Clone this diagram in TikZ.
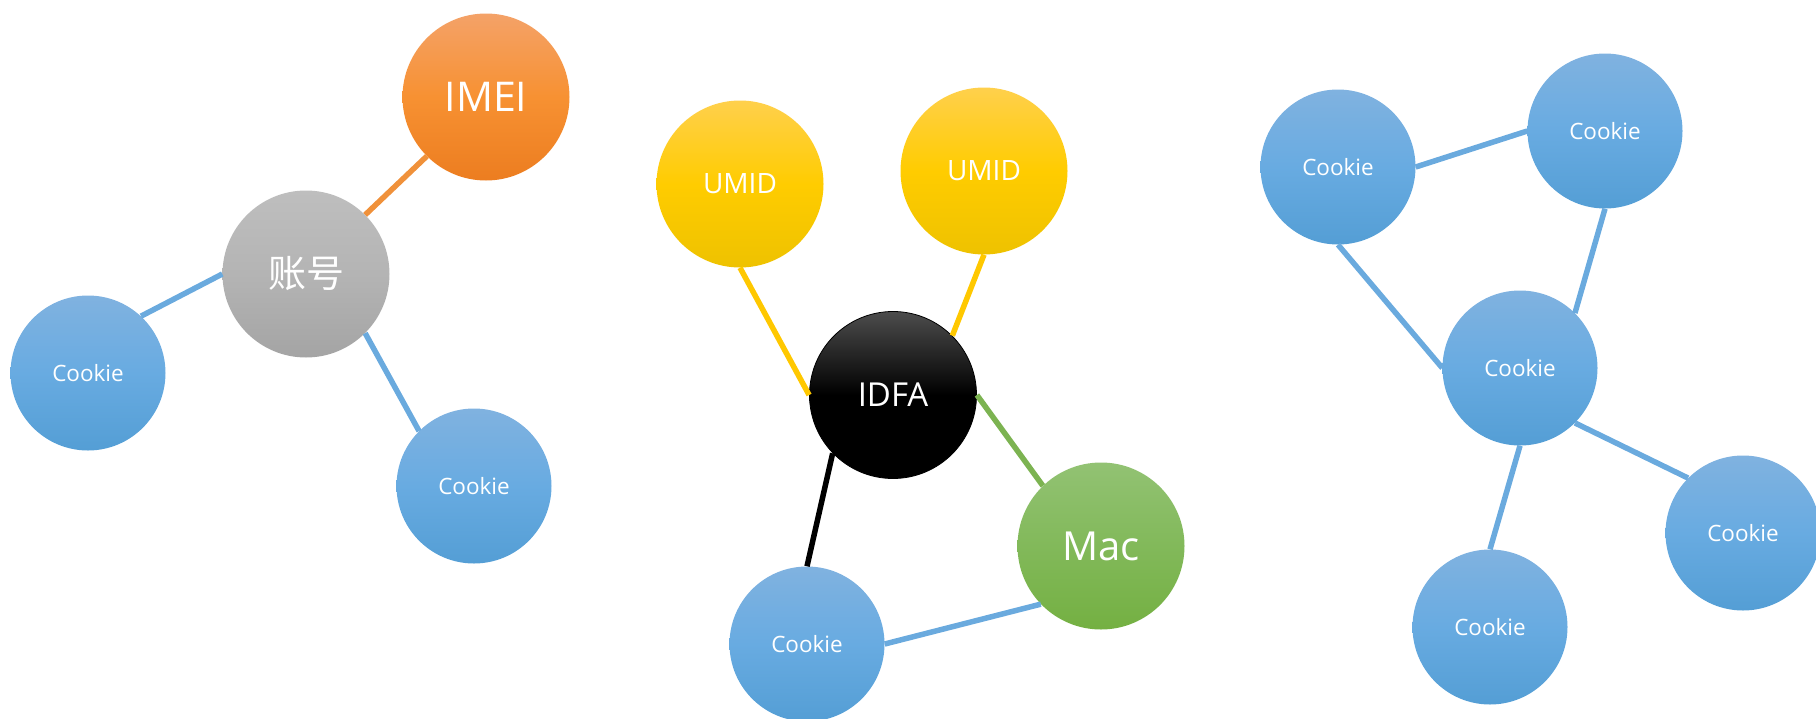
\documentclass[tikz,border=0pt]{standalone}
\usepackage{fontspec}
\setmainfont{Open Sans}
\newfontfamily\cjk{Noto Sans CJK SC}
\definecolor{ckTop}{RGB}{128,178,224}
\definecolor{ckMid}{RGB}{104,171,225}
\definecolor{ckBot}{RGB}{84,158,213}
\definecolor{orTop}{RGB}{244,162,104}
\definecolor{orMid}{RGB}{247,145,50}
\definecolor{orBot}{RGB}{236,125,32}
\definecolor{grTop}{RGB}{190,190,190}
\definecolor{grMid}{RGB}{180,180,180}
\definecolor{grBot}{RGB}{164,164,164}
\definecolor{yeTop}{RGB}{255,208,76}
\definecolor{yeMid}{RGB}{255,204,0}
\definecolor{yeBot}{RGB}{238,194,0}
\definecolor{gnTop}{RGB}{146,194,115}
\definecolor{gnMid}{RGB}{130,185,90}
\definecolor{gnBot}{RGB}{116,176,66}
\definecolor{blueLine}{RGB}{106,170,222}
\definecolor{orangeLine}{RGB}{240,145,58}
\definecolor{yellowLine}{RGB}{255,200,0}
\definecolor{greenLine}{RGB}{124,179,81}
\tikzset{
  bubble/.style={circle, inner sep=0pt, minimum size=167pt, text=white},
  ck/.style={circle, inner sep=0pt, minimum size=155pt, text=white, font=\fontsize{22.5}{27}\selectfont,
    top color=ckTop, bottom color=ckBot, middle color=ckMid},
  orb/.style={bubble, top color=orTop, bottom color=orBot, middle color=orMid},
  grb/.style={bubble, top color=grTop, bottom color=grBot, middle color=grMid},
  yeb/.style={bubble, top color=yeTop, bottom color=yeBot, middle color=yeMid},
  gnb/.style={bubble, top color=gnTop, bottom color=gnBot, middle color=gnMid},
  blb/.style={bubble, top color=black!70, bottom color=black, middle color=black, draw=black, line width=0.8pt},
  link/.style={line width=5.5pt},
}
\begin{document}
\begin{tikzpicture}[x=1pt,y=-1pt]
\useasboundingbox (0,0) rectangle (1816,718);
% left group
\node[orb, font=\fontsize{41}{48}\selectfont] (imei) at (486,97) {IMEI};
\node[grb, font=\cjk\fontsize{38}{44}\selectfont] (acct) at (306,274) {账号};
\node[ck] (ckl) at (88,373) {Cookie};
\node[ck] (ckb) at (474,486) {Cookie};
% middle group
\node[yeb, font=\fontsize{28}{33}\selectfont] (umidl) at (740,184) {UMID};
\node[yeb, font=\fontsize{28}{33}\selectfont] (umidr) at (984,171) {UMID};
\node[blb, font=\fontsize{33}{39}\selectfont] (idfa) at (893,395) {IDFA};
\node[gnb, font=\fontsize{40}{47}\selectfont] (mac) at (1101,546) {Mac};
\node[ck] (ckm) at (807,644) {Cookie};
% right group
\node[ck] (ca) at (1338,167) {Cookie};
\node[ck] (cb) at (1605,131) {Cookie};
\node[ck] (cc) at (1520,368) {Cookie};
\node[ck] (cd) at (1743,533) {Cookie};
\node[ck] (ce) at (1490,627) {Cookie};
% links left
\draw[link, orangeLine] (imei.225) -- (acct.45);
\draw[link, blueLine] (acct.west) -- (ckl.47);
\draw[link, blueLine] (acct.-45) -- (ckb.135);
% links middle
\draw[link, yellowLine] (umidl.south) -- (idfa.west);
\draw[link, yellowLine] (umidr.south) -- (idfa.45);
\draw[link, greenLine] (idfa.east) -- (mac.134);
\draw[link, black] (idfa.224) -- (ckm.north);
\draw[link, blueLine] (ckm.east) -- (mac.224);
% links right
\draw[link, blueLine] (ca.east) -- (cb.west);
\draw[link, blueLine] (ca.south) -- (cc.west);
\draw[link, blueLine] (cb.south) -- (cc.45);
\draw[link, blueLine] (cc.-45) -- (cd.135);
\draw[link, blueLine] (cc.south) -- (ce.north);
\end{tikzpicture}
\end{document}
